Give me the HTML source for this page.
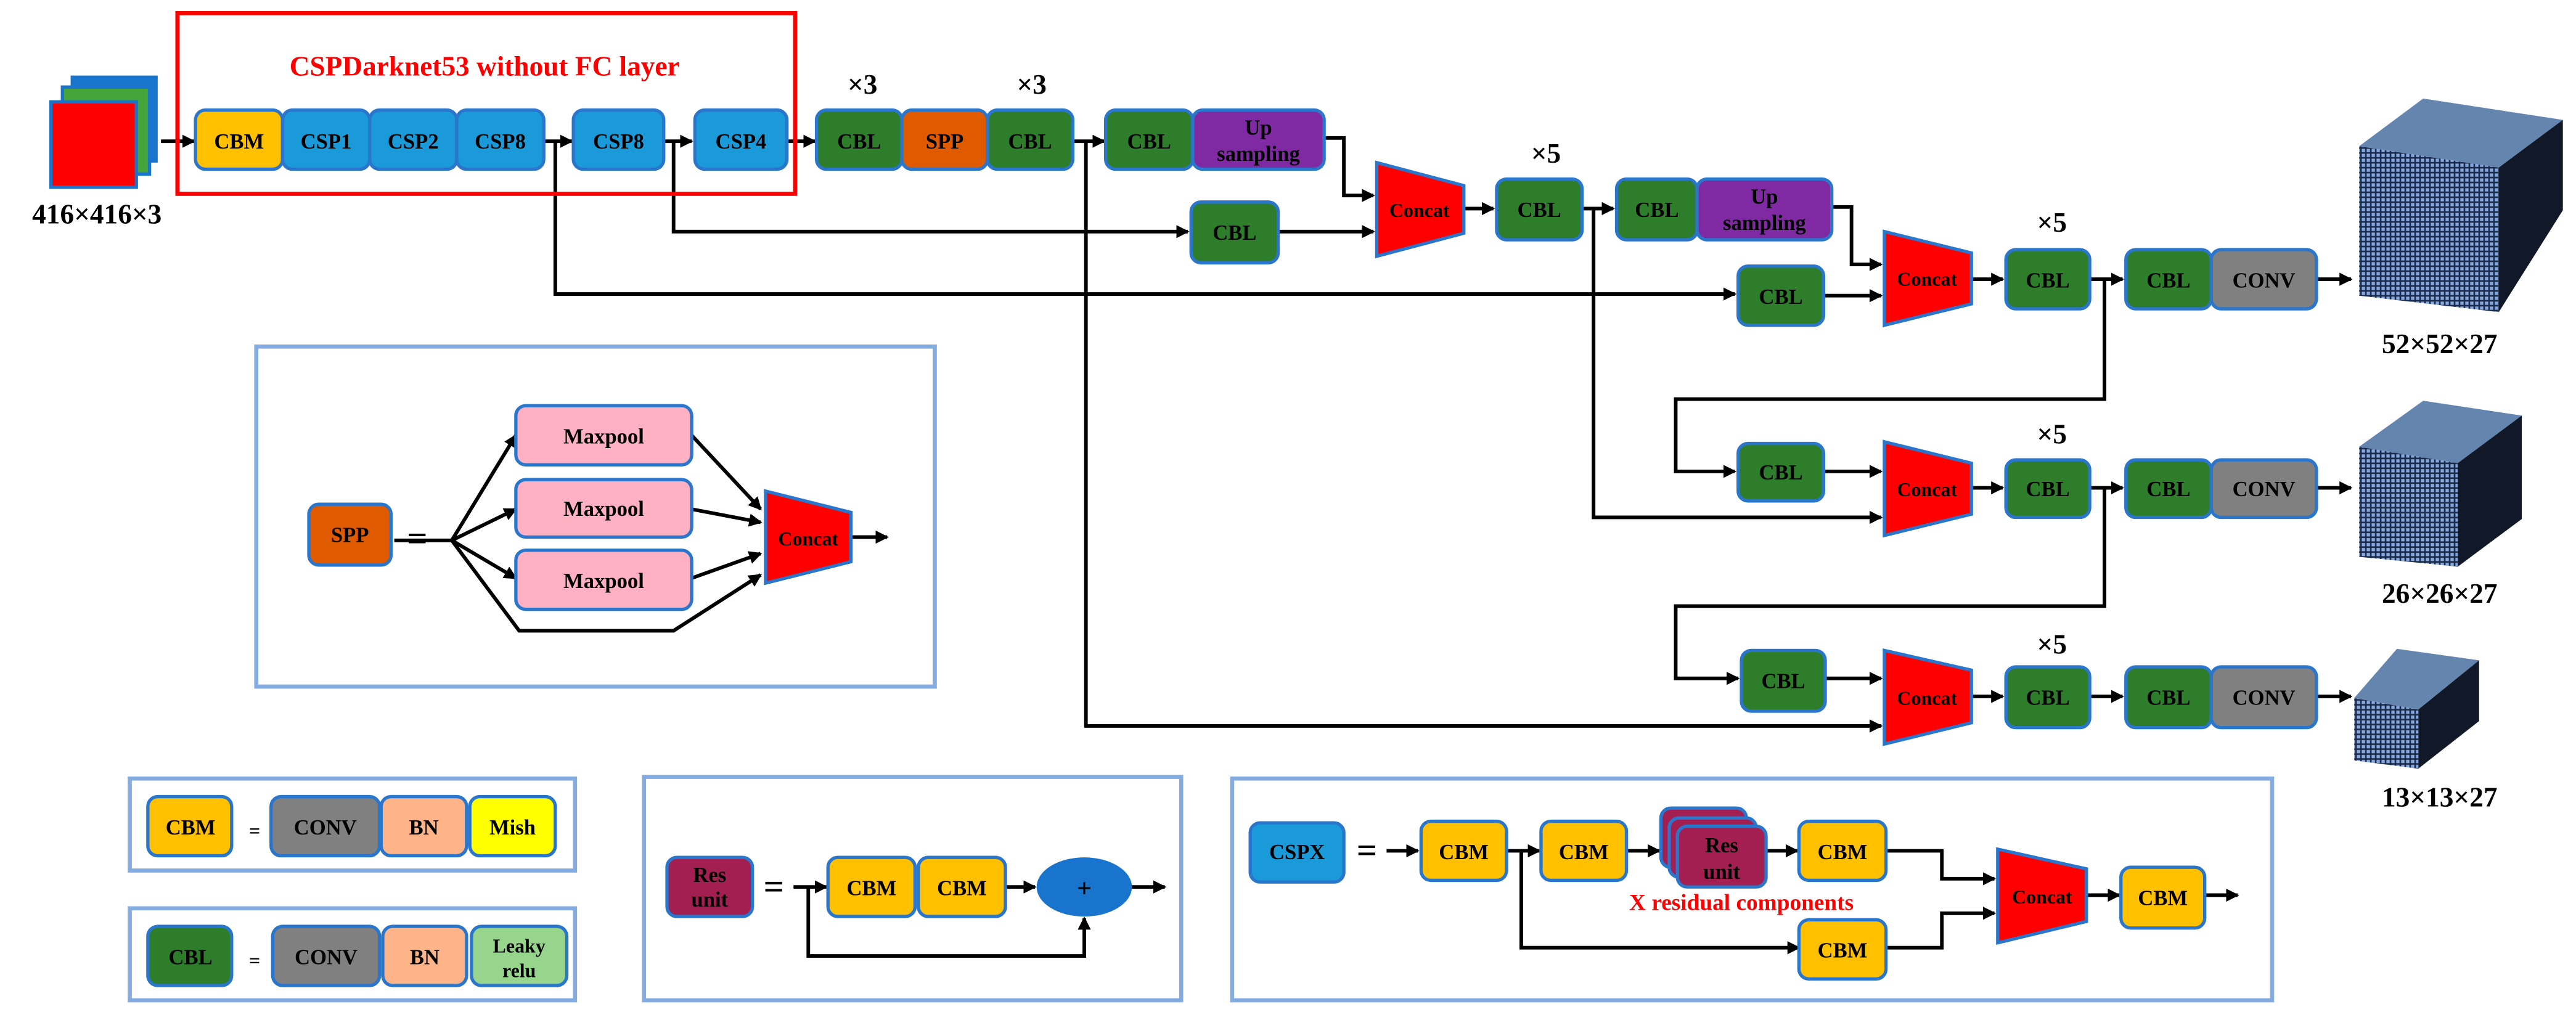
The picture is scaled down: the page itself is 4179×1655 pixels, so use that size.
<!DOCTYPE html>
<html><head><meta charset="utf-8"><style>
html,body{margin:0;padding:0;background:#fff;}
svg{display:block;}
text{font-family:"Liberation Serif",serif;font-weight:bold;}
</style></head><body>
<svg xmlns="http://www.w3.org/2000/svg" width="4179" height="1655" viewBox="0 0 1568 621" preserveAspectRatio="none">
<defs>
<marker id="a" markerWidth="8" markerHeight="8" refX="7" refY="4" orient="auto" markerUnits="userSpaceOnUse">
<path d="M0,0 L8,4 L0,8 Z" fill="#000"/></marker>
<pattern id="g" width="3" height="3" patternUnits="userSpaceOnUse">
<rect width="3" height="3" fill="#1c2a4a"/><rect x="0.6" y="0.6" width="2" height="2" fill="#86a8e0"/></pattern>
</defs>
<g fill="none" stroke="#000" stroke-width="2.2" marker-end="url(#a)">
<path d="M98,86 H118"/><path d="M331,86 H348"/><path d="M404,86 H421"/><path d="M479,86 H496"/><path d="M653,86 H672"/>
<path d="M806,84 H818 V119 H836"/>
<path d="M338,86 V179 H1056"/>
<path d="M410,86 V141 H723"/>
<path d="M778,141 H836"/>
<path d="M661,86 V442 H1145"/>
<path d="M891,127 H909"/><path d="M963,127 H982"/>
<path d="M970,127 V315 H1145"/>
<path d="M1115,126 H1127 V161 H1145"/>
<path d="M1110,180 H1145"/>
<path d="M1200,170 H1219"/><path d="M1272,170 H1292"/><path d="M1410,170 H1431"/>
<path d="M1281,170 V243 H1020 V287 H1056"/>
<path d="M1110,287 H1145"/>
<path d="M1200,297 H1219"/><path d="M1272,297 H1292"/><path d="M1410,297 H1431"/>
<path d="M1281,297 V369 H1020 V413 H1058"/>
<path d="M1111,413 H1145"/>
<path d="M1200,424 H1219"/><path d="M1272,424 H1292"/><path d="M1410,424 H1431"/>
<!-- SPP -->
<path d="M275,329 L314,265"/><path d="M275,329 L314,310"/><path d="M275,329 L314,352"/>
<path d="M275,329 L316,384 H410 L463,350"/>
<path d="M421,265 L463,310"/><path d="M421,310 L463,318"/><path d="M421,352 L463,337"/>
<path d="M518,327 H540"/>
<!-- Res -->
<path d="M483,540 H503"/><path d="M612,540 H630"/><path d="M689,540 H709"/>
<path d="M492,540 V582 H660 V559"/>
<!-- CSPX -->
<path d="M844,518 H863"/><path d="M917,518 H937"/><path d="M990,518 H1010"/><path d="M1075,518 H1094"/>
<path d="M926,518 V577 H1095"/>
<path d="M1148,518 H1182 V535 H1214"/>
<path d="M1148,577 H1182 V556 H1214"/>
<path d="M1270,545 H1290"/><path d="M1342,545 H1362"/>
</g>
<path d="M240,329 H275" stroke="#000" stroke-width="2.2"/>
<!-- frames -->
<rect x="108" y="8" width="376" height="110" fill="none" stroke="#ff0000" stroke-width="2.5"/>
<g fill="none" stroke="#84ace0" stroke-width="2.5">
<rect x="156" y="211" width="413" height="207"/>
<rect x="79" y="474" width="271" height="56"/>
<rect x="79" y="553" width="271" height="56"/>
<rect x="392" y="473" width="327" height="136"/>
<rect x="750" y="474" width="633" height="135"/>
</g>
<!-- input image -->
<rect x="43" y="46" width="53" height="53" fill="#1874cd"/>
<rect x="38" y="53" width="53" height="53" fill="#46a53a" stroke="#1874cd" stroke-width="2"/>
<rect x="31" y="62" width="52" height="52" fill="#ff0000" stroke="#1874cd" stroke-width="2"/>
<g stroke="#2a76cc" stroke-width="2">
<rect x="119" y="67" width="53" height="36" rx="6" fill="#ffc000"/>
<rect x="172" y="67" width="53" height="36" rx="6" fill="#1a9ad8"/>
<rect x="225" y="67" width="53" height="36" rx="6" fill="#1a9ad8"/>
<rect x="278" y="67" width="53" height="36" rx="6" fill="#1a9ad8"/>
<rect x="349" y="67" width="55" height="36" rx="6" fill="#1a9ad8"/>
<rect x="423" y="67" width="56" height="36" rx="6" fill="#1a9ad8"/>
<rect x="497" y="67" width="52" height="36" rx="6" fill="#2e7d2b"/>
<rect x="549" y="67" width="52" height="36" rx="6" fill="#e05a00"/>
<rect x="601" y="67" width="52" height="36" rx="6" fill="#2e7d2b"/>
<rect x="673" y="67" width="53" height="36" rx="6" fill="#2e7d2b"/>
<rect x="726" y="67" width="80" height="36" rx="6" fill="#7f2aa3"/>
<rect x="725" y="123" width="53" height="37" rx="6" fill="#2e7d2b"/>
<rect x="911" y="109" width="52" height="37" rx="6" fill="#2e7d2b"/>
<rect x="984" y="109" width="49" height="37" rx="6" fill="#2e7d2b"/>
<rect x="1033" y="109" width="82" height="37" rx="6" fill="#7f2aa3"/>
<rect x="1058" y="162" width="52" height="36" rx="6" fill="#2e7d2b"/>
<rect x="1221" y="152" width="51" height="36" rx="6" fill="#2e7d2b"/>
<rect x="1294" y="152" width="52" height="36" rx="6" fill="#2e7d2b"/>
<rect x="1346" y="152" width="64" height="36" rx="6" fill="#808080"/>
<rect x="1058" y="270" width="52" height="35" rx="6" fill="#2e7d2b"/>
<rect x="1221" y="280" width="51" height="35" rx="6" fill="#2e7d2b"/>
<rect x="1294" y="280" width="52" height="35" rx="6" fill="#2e7d2b"/>
<rect x="1346" y="280" width="64" height="35" rx="6" fill="#808080"/>
<rect x="1060" y="396" width="51" height="37" rx="6" fill="#2e7d2b"/>
<rect x="1221" y="406" width="51" height="37" rx="6" fill="#2e7d2b"/>
<rect x="1294" y="406" width="52" height="37" rx="6" fill="#2e7d2b"/>
<rect x="1346" y="406" width="64" height="37" rx="6" fill="#808080"/>
<!-- SPP -->
<rect x="188" y="307" width="50" height="37" rx="6" fill="#e05a00"/>
<rect x="314" y="247" width="107" height="36" rx="6" fill="#ffb1c3"/>
<rect x="314" y="292" width="107" height="35" rx="6" fill="#ffb1c3"/>
<rect x="314" y="335" width="107" height="36" rx="6" fill="#ffb1c3"/>
<!-- legend -->
<rect x="90" y="485" width="51" height="36" rx="6" fill="#ffc000"/>
<rect x="165" y="485" width="66" height="36" rx="6" fill="#808080"/>
<rect x="232" y="485" width="52" height="36" rx="6" fill="#fdb488"/>
<rect x="286" y="485" width="52" height="36" rx="6" fill="#ffff00"/>
<rect x="90" y="564" width="51" height="36" rx="6" fill="#2e7d2b"/>
<rect x="166" y="564" width="65" height="36" rx="6" fill="#808080"/>
<rect x="233" y="564" width="51" height="36" rx="6" fill="#fdb488"/>
<rect x="287" y="564" width="58" height="36" rx="6" fill="#98d58c"/>
<!-- res -->
<rect x="406" y="522" width="52" height="36" rx="6" fill="#a31f52"/>
<rect x="504" y="522" width="53" height="36" rx="6" fill="#ffc000"/>
<rect x="559" y="522" width="53" height="36" rx="6" fill="#ffc000"/>
<!-- cspx -->
<rect x="761" y="501" width="57" height="36" rx="6" fill="#1a9ad8"/>
<rect x="865" y="500" width="52" height="36" rx="6" fill="#ffc000"/>
<rect x="938" y="500" width="52" height="36" rx="6" fill="#ffc000"/>
<rect x="1011" y="492" width="52" height="36" rx="6" fill="#a31f52"/>
<rect x="1016" y="498" width="53" height="36" rx="6" fill="#a31f52"/>
<rect x="1021" y="503" width="54" height="37" rx="6" fill="#a31f52"/>
<rect x="1095" y="500" width="53" height="36" rx="6" fill="#ffc000"/>
<rect x="1095" y="560" width="53" height="36" rx="6" fill="#ffc000"/>
<rect x="1291" y="528" width="51" height="37" rx="6" fill="#ffc000"/>
</g>
<ellipse cx="660" cy="540" rx="29" ry="18" fill="#1874cd"/>
<!-- concats -->
<g fill="#ff0000" stroke="#2a76cc" stroke-width="2">
<polygon points="838,99 891,113 891,142 838,156"/>
<polygon points="1147,141 1200,154 1200,185 1147,198"/>
<polygon points="1147,269 1200,282 1200,313 1147,326"/>
<polygon points="1147,396 1200,408 1200,440 1147,453"/>
<polygon points="466,299 518,312 518,342 466,355"/>
<polygon points="1216,517 1270,529 1270,561 1216,574"/>
</g>
<!-- cubes -->
<polygon points="1436,89 1475,60 1560,73 1521,102" fill="#6485ae"/>
<polygon points="1521,102 1560,73 1560,128 1521,190" fill="#111827"/>
<polygon points="1436,89 1521,102 1521,190 1436,180" fill="url(#g)"/>
<polygon points="1436,272 1475,244 1535,253 1496,282" fill="#6485ae"/>
<polygon points="1496,282 1535,253 1535,316 1496,345" fill="#111827"/>
<polygon points="1436,272 1496,282 1496,345 1436,339" fill="url(#g)"/>
<polygon points="1433,425 1459,395 1509,402 1472,432" fill="#6485ae"/>
<polygon points="1472,432 1509,402 1509,439 1472,468" fill="#111827"/>
<polygon points="1433,425 1472,432 1472,468 1433,463" fill="url(#g)"/>
<!-- text -->
<g font-size="13" text-anchor="middle" fill="#000">
<text x="145.5" y="90.5">CBM</text><text x="198.5" y="90.5">CSP1</text><text x="251.5" y="90.5">CSP2</text><text x="304.5" y="90.5">CSP8</text>
<text x="376.5" y="90.5">CSP8</text><text x="451" y="90.5">CSP4</text>
<text x="523" y="90.5">CBL</text><text x="575" y="90.5">SPP</text><text x="627" y="90.5">CBL</text><text x="699.5" y="90.5">CBL</text>
<text x="766" y="82">Up</text><text x="766" y="98">sampling</text>
<text x="751.5" y="146">CBL</text>
<text x="864" y="132" font-weight="normal" font-size="12">Concat</text>
<text x="937" y="132">CBL</text><text x="1008.5" y="132">CBL</text>
<text x="1074" y="124">Up</text><text x="1074" y="140">sampling</text>
<text x="1084" y="185">CBL</text>
<text x="1173" y="174" font-weight="normal" font-size="12">Concat</text>
<text x="1246.5" y="175">CBL</text><text x="1320" y="175">CBL</text><text x="1378" y="175">CONV</text>
<text x="1084" y="292">CBL</text>
<text x="1173" y="302" font-weight="normal" font-size="12">Concat</text>
<text x="1246.5" y="302">CBL</text><text x="1320" y="302">CBL</text><text x="1378" y="302">CONV</text>
<text x="1085.5" y="419">CBL</text>
<text x="1173" y="429" font-weight="normal" font-size="12">Concat</text>
<text x="1246.5" y="429">CBL</text><text x="1320" y="429">CBL</text><text x="1378" y="429">CONV</text>
<text x="213" y="330">SPP</text>
<text x="367.5" y="270">Maxpool</text><text x="367.5" y="314">Maxpool</text><text x="367.5" y="358">Maxpool</text>
<text x="492" y="332" font-weight="normal" font-size="12">Concat</text>
<text x="116" y="508">CBM</text><text x="198" y="508">CONV</text><text x="258" y="508">BN</text><text x="312" y="508">Mish</text>
<text x="116" y="587">CBL</text><text x="198.5" y="587">CONV</text><text x="258.5" y="587">BN</text>
<text x="316" y="580" font-size="12">Leaky</text><text x="316" y="595" font-size="12">relu</text>
<text x="432" y="537">Res</text><text x="432" y="552">unit</text>
<text x="530.5" y="545">CBM</text><text x="585.5" y="545">CBM</text>
<text x="660" y="546" font-size="16">+</text>
<text x="789.5" y="523">CSPX</text><text x="891" y="523">CBM</text><text x="964" y="523">CBM</text>
<text x="1048" y="519">Res</text><text x="1048" y="535">unit</text>
<text x="1121.5" y="523">CBM</text><text x="1121.5" y="583">CBM</text>
<text x="1243" y="550" font-weight="normal" font-size="12">Concat</text>
<text x="1316.5" y="551">CBM</text>
<text x="1060" y="554" fill="#ff0000" font-size="14">X residual components</text>
<text x="295" y="46" fill="#ff0000" font-size="17">CSPDarknet53 without FC layer</text>
<text x="59" y="136" font-size="17">416×416×3</text>
<text x="1485" y="215" font-size="17">52×52×27</text>
<text x="1485" y="367" font-size="17">26×26×27</text>
<text x="1485" y="491" font-size="17">13×13×27</text>
<g font-weight="normal" font-size="17">
<text x="525" y="57">×3</text><text x="628" y="57">×3</text>
<text x="941" y="99">×5</text><text x="1249" y="141">×5</text><text x="1249" y="270">×5</text><text x="1249" y="398">×5</text>
</g>
<text x="254" y="335" font-size="22" font-weight="normal">=</text>
<text x="155" y="510" font-size="12" font-weight="normal">=</text>
<text x="155" y="589" font-size="12" font-weight="normal">=</text>
<text x="471" y="547" font-size="22" font-weight="normal">=</text>
<text x="832" y="525" font-size="22" font-weight="normal">=</text>
</g>
</svg>
</body></html>
